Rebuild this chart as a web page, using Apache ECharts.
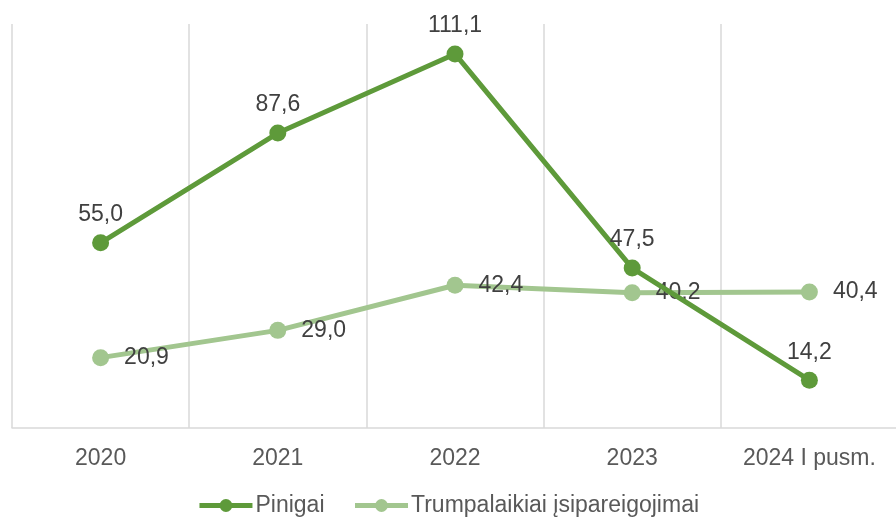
<!DOCTYPE html>
<html>
<head>
<meta charset="utf-8">
<script src="https://cdn.jsdelivr.net/npm/echarts@6/dist/echarts.min.js"></script>
<style>
  html, body { margin: 0; padding: 0; background: #fff; }
  #chart { width: 896px; height: 522px; overflow: hidden; }
</style>
</head>
<body>
<div id="chart"></div>
<script>
// duomenys
const categories = ['2020', '2021', '2022', '2023', '2024 I pusm.']
const pinigai = [55.0, 87.6, 111.1, 47.5, 14.2]
const trumpalaikiai = [20.9, 29.0, 42.4, 40.2, 40.4]

const fmt = p => p.value.toFixed(1).replace('.', ',')
const font = 'Liberation Sans, Arial, sans-serif'

const chart = echarts.init(document.getElementById('chart'))

chart.setOption({
  animation: false,
  textStyle: { fontFamily: font },
  grid: { left: 12, width: 886, top: 24, bottom: 94, outerBoundsMode: 'none', containLabel: false },
  legend: {
    bottom: 0,
    itemWidth: 53,
    itemHeight: 16,
    itemGap: 28,
    lineStyle: { width: 5 },
    textStyle: { fontSize: 23, color: '#595959', fontFamily: font, padding: [0, 0, 0, -2] },
    data: ['Pinigai', 'Trumpalaikiai įsipareigojimai']
  },
  xAxis: {
    type: 'category',
    data: categories,
    boundaryGap: true,
    axisLine: { lineStyle: { color: '#d9d9d9', width: 1.5 } },
    axisTick: { show: false },
    axisLabel: { fontSize: 23, color: '#595959', margin: 19 },
    splitLine: { show: true, lineStyle: { color: '#d9d9d9', width: 1.5 } }
  },
  yAxis: {
    type: 'value',
    min: 0,
    max: 120,
    show: false
  },
  series: [
    {
      name: 'Pinigai',
      type: 'line',
      data: pinigai,
      symbol: 'circle',
      symbolSize: 17,
      lineStyle: { color: '#5e9a3a', width: 5 },
      itemStyle: { color: '#5e9a3a' },
      label: {
        show: true,
        position: 'top',
        distance: 8,
        fontSize: 23,
        color: '#404040',
        formatter: fmt
      },
      z: 3
    },
    {
      name: 'Trumpalaikiai įsipareigojimai',
      type: 'line',
      data: trumpalaikiai,
      symbol: 'circle',
      symbolSize: 17,
      lineStyle: { color: '#a2c68f', width: 5 },
      itemStyle: { color: '#a2c68f' },
      label: {
        show: true,
        position: 'right',
        distance: 15,
        fontSize: 23,
        color: '#404040',
        formatter: fmt
      },
      z: 2
    }
  ]
})
</script>
</body>
</html>
